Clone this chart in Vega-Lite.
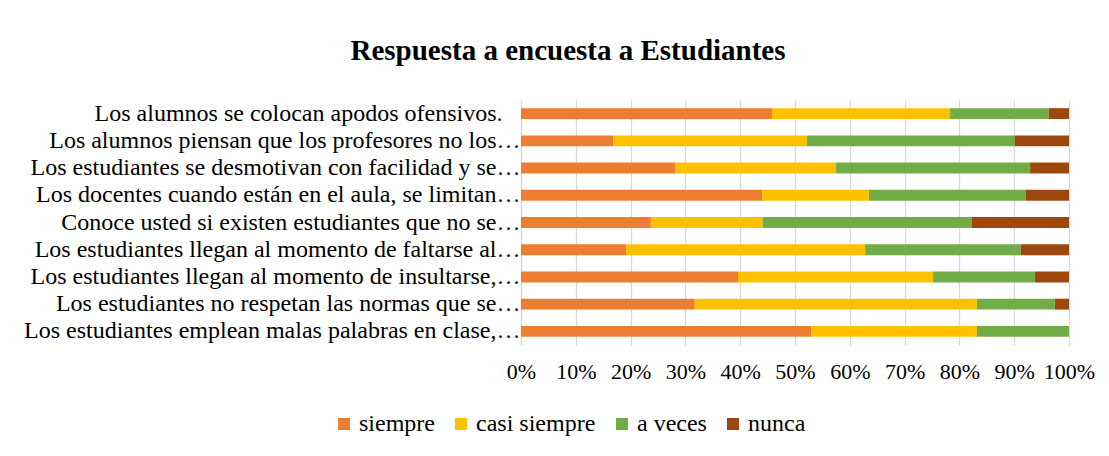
{
  "$schema": "https://vega.github.io/schema/vega-lite/v6.json",
  "autosize": "none",
  "width": 548,
  "height": 245,
  "padding": {"left": 521, "top": 100, "right": 40, "bottom": 111},
  "background": "white",
  "title": {
    "text": "Respuesta a encuesta a Estudiantes",
    "font": "Times New Roman, Liberation Serif, serif",
    "fontSize": 29,
    "fontWeight": "bold",
    "color": "black",
    "anchor": "middle",
    "frame": "group",
    "dx": -227,
    "offset": 34
  },
  "data": {
    "values": [
      {"q": "Los alumnos se colocan apodos ofensivos.\u2002\u00a0\u200b", "r": "siempre", "k": 1, "v": 45.8},
      {"q": "Los alumnos se colocan apodos ofensivos.\u2002\u00a0\u200b", "r": "casi siempre", "k": 2, "v": 32.5},
      {"q": "Los alumnos se colocan apodos ofensivos.\u2002\u00a0\u200b", "r": "a veces", "k": 3, "v": 18.0},
      {"q": "Los alumnos se colocan apodos ofensivos.\u2002\u00a0\u200b", "r": "nunca", "k": 4, "v": 3.7},
      {"q": "Los alumnos piensan que los profesores no los…", "r": "siempre", "k": 1, "v": 16.8},
      {"q": "Los alumnos piensan que los profesores no los…", "r": "casi siempre", "k": 2, "v": 35.4},
      {"q": "Los alumnos piensan que los profesores no los…", "r": "a veces", "k": 3, "v": 37.9},
      {"q": "Los alumnos piensan que los profesores no los…", "r": "nunca", "k": 4, "v": 9.9},
      {"q": "Los estudiantes se desmotivan con facilidad y se…", "r": "siempre", "k": 1, "v": 28.1},
      {"q": "Los estudiantes se desmotivan con facilidad y se…", "r": "casi siempre", "k": 2, "v": 29.4},
      {"q": "Los estudiantes se desmotivan con facilidad y se…", "r": "a veces", "k": 3, "v": 35.4},
      {"q": "Los estudiantes se desmotivan con facilidad y se…", "r": "nunca", "k": 4, "v": 7.1},
      {"q": "Los docentes cuando están en el aula, se limitan…", "r": "siempre", "k": 1, "v": 44.0},
      {"q": "Los docentes cuando están en el aula, se limitan…", "r": "casi siempre", "k": 2, "v": 19.5},
      {"q": "Los docentes cuando están en el aula, se limitan…", "r": "a veces", "k": 3, "v": 28.6},
      {"q": "Los docentes cuando están en el aula, se limitan…", "r": "nunca", "k": 4, "v": 7.9},
      {"q": "Conoce usted si existen estudiantes que no se…", "r": "siempre", "k": 1, "v": 23.7},
      {"q": "Conoce usted si existen estudiantes que no se…", "r": "casi siempre", "k": 2, "v": 20.4},
      {"q": "Conoce usted si existen estudiantes que no se…", "r": "a veces", "k": 3, "v": 38.2},
      {"q": "Conoce usted si existen estudiantes que no se…", "r": "nunca", "k": 4, "v": 17.7},
      {"q": "Los estudiantes llegan al momento de faltarse al…", "r": "siempre", "k": 1, "v": 19.2},
      {"q": "Los estudiantes llegan al momento de faltarse al…", "r": "casi siempre", "k": 2, "v": 43.6},
      {"q": "Los estudiantes llegan al momento de faltarse al…", "r": "a veces", "k": 3, "v": 28.4},
      {"q": "Los estudiantes llegan al momento de faltarse al…", "r": "nunca", "k": 4, "v": 8.8},
      {"q": "Los estudiantes llegan al momento de insultarse,…", "r": "siempre", "k": 1, "v": 39.6},
      {"q": "Los estudiantes llegan al momento de insultarse,…", "r": "casi siempre", "k": 2, "v": 35.6},
      {"q": "Los estudiantes llegan al momento de insultarse,…", "r": "a veces", "k": 3, "v": 18.6},
      {"q": "Los estudiantes llegan al momento de insultarse,…", "r": "nunca", "k": 4, "v": 6.2},
      {"q": "Los estudiantes no respetan las normas que se…", "r": "siempre", "k": 1, "v": 31.7},
      {"q": "Los estudiantes no respetan las normas que se…", "r": "casi siempre", "k": 2, "v": 51.5},
      {"q": "Los estudiantes no respetan las normas que se…", "r": "a veces", "k": 3, "v": 14.2},
      {"q": "Los estudiantes no respetan las normas que se…", "r": "nunca", "k": 4, "v": 2.6},
      {"q": "Los estudiantes emplean malas palabras en clase,…", "r": "siempre", "k": 1, "v": 53.0},
      {"q": "Los estudiantes emplean malas palabras en clase,…", "r": "casi siempre", "k": 2, "v": 30.2},
      {"q": "Los estudiantes emplean malas palabras en clase,…", "r": "a veces", "k": 3, "v": 16.8},
      {"q": "Los estudiantes emplean malas palabras en clase,…", "r": "nunca", "k": 4, "v": 0}
    ]
  },
  "mark": {"type": "bar"},
  "encoding": {
    "y": {
      "field": "q",
      "type": "nominal",
      "sort": null,
      "scale": {"paddingInner": 0.6, "paddingOuter": 0.3},
      "axis": {
        "title": null,
        "labelFont": "Times New Roman, Liberation Serif, serif",
        "labelFontSize": 24,
        "labelColor": "black",
        "labelLimit": 0,
        "labelPadding": 1,
        "ticks": false,
        "domain": true,
        "domainColor": "#D9D9D9",
        "domainWidth": 1.3,
        "grid": false
      }
    },
    "x": {
      "field": "v",
      "type": "quantitative",
      "stack": "normalize",
      "scale": {"domain": [0, 1], "nice": false},
      "axis": {
        "title": null,
        "format": ".0%",
        "values": [0, 0.1, 0.2, 0.3, 0.4, 0.5, 0.6, 0.7, 0.8, 0.9, 1],
        "labelFont": "Times New Roman, Liberation Serif, serif",
        "labelFontSize": 22,
        "labelColor": "black",
        "labelPadding": 16,
        "labelFlush": false,
        "labelOverlap": false,
        "ticks": false,
        "domain": false,
        "grid": true,
        "gridColor": "#D9D9D9",
        "gridWidth": 1.3
      }
    },
    "order": {"field": "k", "type": "quantitative", "sort": "ascending"},
    "color": {
      "field": "r",
      "type": "nominal",
      "sort": ["siempre", "casi siempre", "a veces", "nunca"],
      "scale": {
        "domain": ["siempre", "casi siempre", "a veces", "nunca"],
        "range": ["#ED7D31", "#FFC000", "#70AD47", "#9E480E"]
      },
      "legend": {
        "title": null,
        "orient": "none",
        "direction": "horizontal",
        "legendX": -189,
        "legendY": 312,
        "symbolType": "square",
        "symbolSize": 144,
        "symbolStrokeWidth": 0,
        "labelFont": "Times New Roman, Liberation Serif, serif",
        "labelFontSize": 24,
        "labelColor": "black",
        "labelOffset": 3,
        "columnPadding": 14,
        "labelLimit": 0
      }
    }
  },
  "config": {
    "view": {"stroke": null}
  }
}
